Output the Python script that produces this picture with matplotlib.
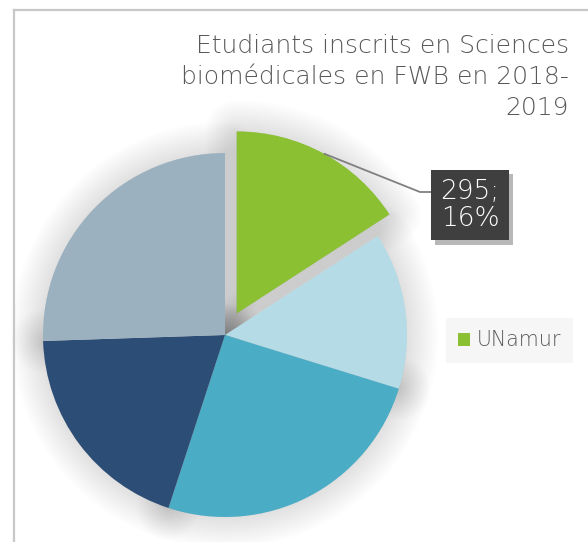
import matplotlib
matplotlib.use("Agg")
import matplotlib.pyplot as plt
from matplotlib.patches import Patch
from matplotlib.lines import Line2D
import matplotlib.patheffects as pe
import numpy as np

# ---- data ----
categories = ["UNamur", "UCLouvain", "ULB", "ULiège", "UMONS"]
values = [295, 259, 470, 362, 475]
colors = ["#8AC032", "#B5DCE6", "#4BACC6", "#2C4D75", "#9BB1BF"]
title = "Etudiants inscrits en Sciences\nbiomédicales en FWB en 2018-\n2019"
label_index = 0
legend_index = 0

W, H = 588, 542
FONT = ["DejaVu Sans"]
fig = plt.figure(figsize=(W / 100, H / 100), dpi=100)
fig.patch.set_facecolor("white")
ax = fig.add_axes([0, 0, 1, 1])

center = (225, H - 335)
radius = 182
explode = [0.135 * radius if i == label_index else 0 for i in range(len(values))]

# soft shadow behind the pie
shadow_effects = [pe.Stroke(linewidth=lw, foreground="black", alpha=0.007,
                            joinstyle="round", capstyle="round")
                  for lw in range(3, 46, 3)]
sw, _ = ax.pie(values, explode=explode, startangle=90, counterclock=False,
               center=center, radius=radius, colors=["#dcdcdc"] * len(values),
               wedgeprops=dict(linewidth=0))
for w in sw:
    w.set_path_effects(shadow_effects + [pe.Normal()])
    w.set_zorder(1)

wedges, _ = ax.pie(values, explode=explode, startangle=90, counterclock=False,
                   center=center, radius=radius, colors=colors,
                   wedgeprops=dict(linewidth=0))
for w in wedges:
    w.set_zorder(2)

ax.set_xlim(0, W)
ax.set_ylim(0, H)
ax.set_aspect("equal")
ax.axis("off")

# data label with leader line
total = sum(values)
wl = wedges[label_index]
mid = np.deg2rad((wl.theta1 + wl.theta2) / 2)
cx, cy = wl.center
p0 = (cx + radius * np.cos(mid), cy + radius * np.sin(mid))
label_txt = f"{values[label_index]};\n{round(100 * values[label_index] / total)}%"
box_c = (470, H - 205)
elbow = (420, H - 192)
ax.plot([p0[0], elbow[0], 432], [p0[1], elbow[1], elbow[1]], color="#808080",
        lw=1.3, zorder=3, solid_capstyle="butt")
t = ax.text(box_c[0], box_c[1], label_txt, ha="center", va="center",
            color="white", fontsize=19, family=FONT,
            fontweight="light", linespacing=1.12, zorder=4,
            bbox=dict(boxstyle="square,pad=0.35", facecolor="#3f3f3f",
                      edgecolor="none", linewidth=0))
t.get_bbox_patch().set_path_effects(
    [pe.SimplePatchShadow(offset=(3, -3), shadow_rgbFace="#8a8a8a", alpha=0.6),
     pe.Normal()])

# legend
leg = fig.legend(handles=[Patch(facecolor=colors[legend_index], edgecolor="none",
                                label=categories[legend_index])],
                 loc="center", bbox_to_anchor=(509.5 / W, 1 - 340.5 / H),
                 bbox_transform=fig.transFigure, frameon=True,
                 facecolor="#f6f6f6", edgecolor="none", fancybox=False,
                 framealpha=1, handlelength=0.6, handleheight=0.6,
                 handletextpad=0.3, borderpad=0.6,
                 prop=dict(family=FONT, size=14.8, weight="light"))
for txt in leg.get_texts():
    txt.set_color("#595959")

# title
fig.text(569 / W, 1 - 34 / H, title, ha="right", va="top", color="#595959",
         fontsize=18, family=FONT, fontweight="light",
         linespacing=1.36)

# frame lines
fig.add_artist(Line2D([14 / W, 14 / W], [0, 1 - 9.5 / H], color="#c8c8c8",
                      lw=1.6, transform=fig.transFigure))
fig.add_artist(Line2D([14 / W, 1], [1 - 9.5 / H, 1 - 9.5 / H], color="#c8c8c8",
                      lw=1.6, transform=fig.transFigure))

fig.savefig("out.png", dpi=100, facecolor="white")
